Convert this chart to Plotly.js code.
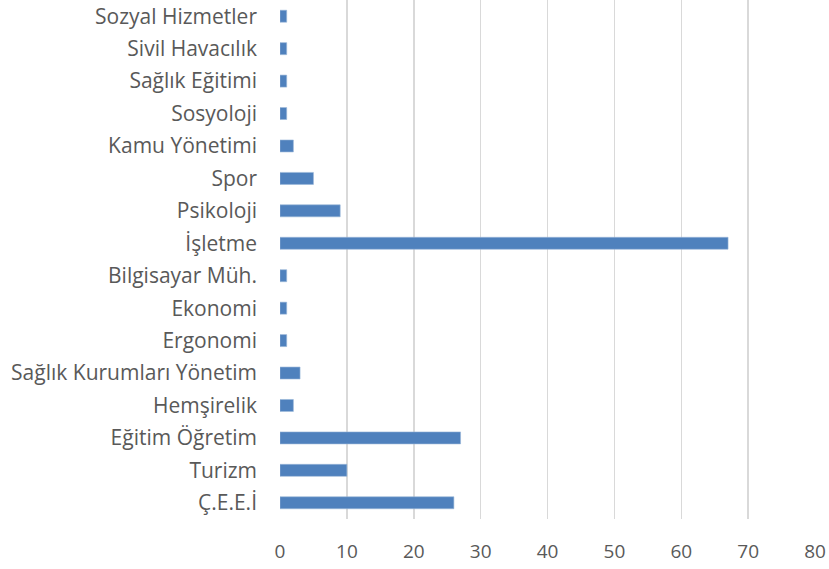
<!DOCTYPE html>
<html>
<head>
<meta charset="utf-8">
<script src="https://cdn.plot.ly/plotly-3.0.1.min.js"></script>
<style>html,body{margin:0;padding:0;background:#fff}#chart{width:829px;height:569px}</style>
</head>
<body>
<div id="chart"></div>
<script>
const categories = ["Ç.E.E.İ", "Turizm", "Eğitim Öğretim", "Hemşirelik", "Sağlık Kurumları Yönetim", "Ergonomi", "Ekonomi", "Bilgisayar Müh.", "İşletme", "Psikoloji", "Spor", "Kamu Yönetimi", "Sosyoloji", "Sağlık Eğitimi", "Sivil Havacılık", "Sozyal Hizmetler"];
const values = [26, 10, 27, 2, 3, 1, 1, 1, 67, 9, 5, 2, 1, 1, 1, 1];
const xTicks = [0, 10, 20, 30, 40, 50, 60, 70, 80];

const trace = {
  type: 'bar',
  orientation: 'h',
  y: categories,
  x: values,
  width: 0.37,
  marker: {color: '#4f81bd', line: {color: '#9bb7d9', width: 0.6}},
  hoverinfo: 'x+y'
};

const layout = {
  width: 829, height: 569,
  margin: {l: 280, r: 14, t: 0, b: 50, pad: 0},
  paper_bgcolor: '#ffffff', plot_bgcolor: '#ffffff',
  showlegend: false,
  font: {family: 'Open Sans, sans-serif', size: 16, color: '#595959'},
  xaxis: {
    range: [0, 80], tickvals: xTicks, ticktext: xTicks.map(String),
    showgrid: true, gridcolor: '#d9d9d9', gridwidth: 1.5,
    zeroline: false, showline: false, ticks: '',
    tickfont: {family: 'Open Sans, sans-serif', size: 19, color: '#595959'},
    ticklabelstandoff: 19, fixedrange: true
  },
  yaxis: {
    type: 'category', categoryorder: 'array', categoryarray: categories,
    range: [-0.5, 15.5], showgrid: false, zeroline: false, showline: false,
    ticks: '', ticklabelstandoff: 22,
    tickfont: {family: 'Open Sans, sans-serif', size: 21, color: '#595959'},
    fixedrange: true
  }
};

Plotly.newPlot('chart', [trace], layout, {displayModeBar: false, staticPlot: true});
</script>
</body>
</html>
